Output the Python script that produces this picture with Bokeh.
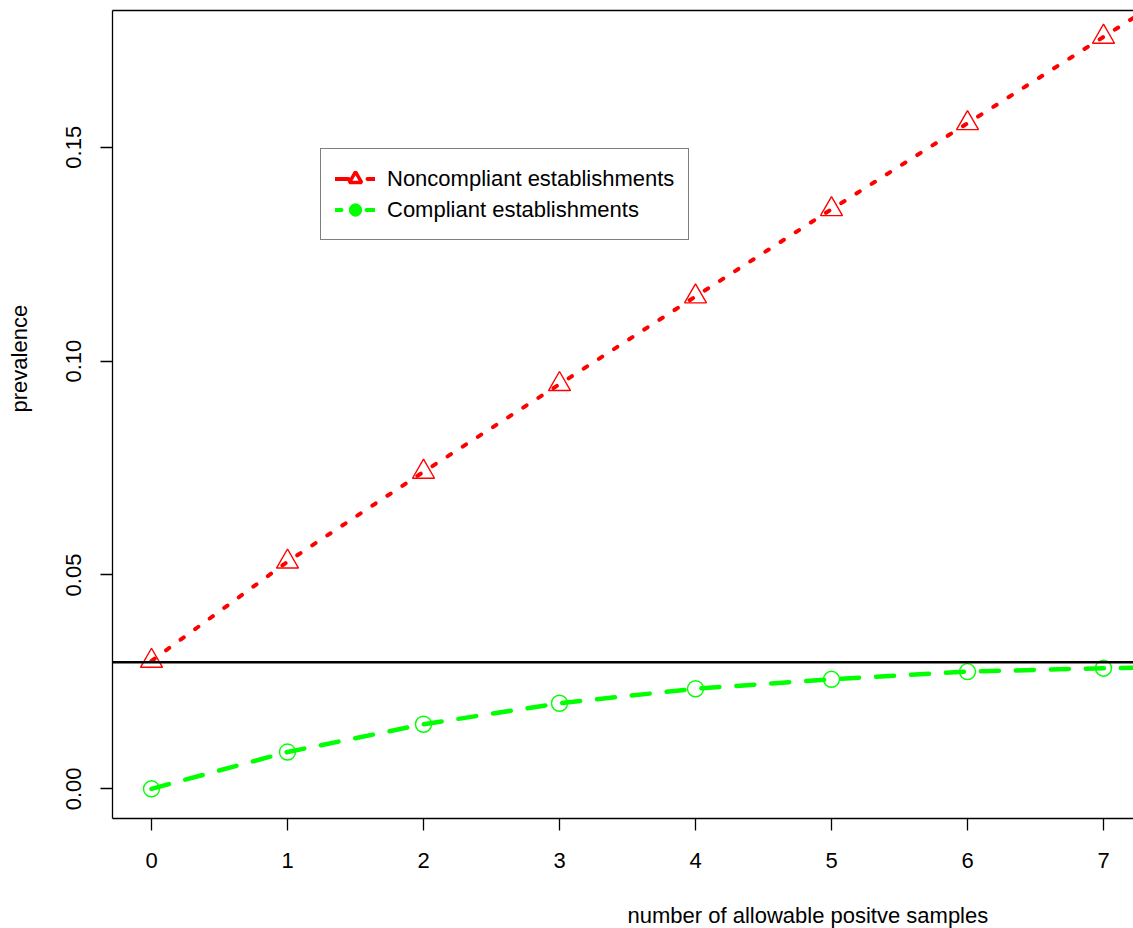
from bokeh.plotting import figure
from bokeh.models import (Range1d, FixedTicker, LinearAxis, Span, Title, Legend,
                          LegendItem, ColumnDataSource)
from bokeh.embed import file_html
from bokeh.resources import INLINE

# ---- data ----
allowable = [0, 1, 2, 3, 4, 5, 6, 7, 8]
noncompliant = [0.0299, 0.0531, 0.0741, 0.0946, 0.1151, 0.1355, 0.1556, 0.1758, 0.1960]
compliant = [0.0000, 0.0086, 0.0151, 0.0200, 0.0234, 0.0256, 0.0274, 0.0282, 0.0287]
reference_level = 0.0296
x_ticks = [0, 1, 2, 3, 4, 5, 6, 7]
y_ticks = [0.00, 0.05, 0.10, 0.15]
y_tick_labels = ["0.00", "0.05", "0.10", "0.15"]

FONT = "Liberation Sans"
RED = "#ff0000"
GREEN = "#00ff00"

W, H = 1133, 928
p = figure(width=W, height=H, output_backend="svg", toolbar_location=None,
           x_range=Range1d(-0.2868, 7.2206), y_range=Range1d(-0.00694, 0.18197),
           x_axis_type=None, y_axis_type=None,
           min_border_left=112, min_border_right=0, min_border_top=10, min_border_bottom=110)
p.outline_line_color = None
p.grid.visible = False
p.background_fill_color = "white"
p.border_fill_color = "white"

def style_axis(ax):
    ax.axis_line_color = "black"
    ax.axis_line_width = 1.3
    ax.major_tick_line_color = "black"
    ax.major_tick_line_width = 1.3
    ax.major_tick_in = 0
    ax.major_tick_out = 12
    ax.minor_tick_line_color = None
    ax.major_label_text_font = FONT
    ax.major_label_text_font_size = "22px"
    ax.major_label_text_color = "black"

def spacer(px):
    # an empty axis whose (blank) label only reserves room between the ticks and the title
    ax = LinearAxis(ticker=FixedTicker(ticks=[]))
    ax.axis_line_color = None
    ax.major_tick_line_color = None
    ax.minor_tick_line_color = None
    ax.major_tick_in = 0
    ax.major_tick_out = 0
    ax.major_label_standoff = 0
    ax.major_label_text_font_size = "0px"
    ax.axis_label = "\u00a0"
    ax.axis_label_text_font_size = "1px"
    ax.axis_label_standoff = px
    return ax

xaxis = LinearAxis(ticker=FixedTicker(ticks=x_ticks))
style_axis(xaxis)
xaxis.major_label_standoff = 22
p.add_layout(xaxis, "below")
p.add_layout(spacer(26), "below")

yaxis = LinearAxis(ticker=FixedTicker(ticks=y_ticks))
yaxis.major_label_overrides = {t: lab for t, lab in zip(y_ticks, y_tick_labels)}
style_axis(yaxis)
yaxis.major_label_orientation = "vertical"
yaxis.major_label_standoff = 19
p.add_layout(yaxis, "left")
p.add_layout(spacer(28), "left")

top = LinearAxis(ticker=FixedTicker(ticks=[]))
top.axis_line_color = "black"
top.axis_line_width = 1.3
top.major_tick_out = 0
top.major_tick_in = 0
top.major_label_text_font_size = "0px"
top.major_label_standoff = 0
top.minor_tick_line_color = None
p.add_layout(top, "above")

# reference level
p.add_layout(Span(location=reference_level, dimension="width", line_color="black", line_width=2.6))

src = ColumnDataSource(dict(x=allowable, non=noncompliant, comp=compliant))

p.line("x", "non", source=src, line_color=RED, line_width=4, line_dash="4 14", line_cap="round")
p.scatter("x", "non", source=src, marker="triangle", size=22, fill_color=None,
          line_color=RED, line_width=1.4)

p.line("x", "comp", source=src, line_color=GREEN, line_width=4.5, line_dash="18 17", line_cap="round")
p.scatter("x", "comp", source=src, marker="circle", size=16, fill_color=None,
          line_color=GREEN, line_width=1.4)

# legend samples (renderers placed outside the visible range, used only for legend glyphs)
off = dict(x=[-50, -49], y=[-50, -49])
lr1 = p.line(off["x"], off["y"], line_color=RED, line_width=4, line_dash="13 19 13", line_cap="round")
lr2 = p.scatter(off["x"], off["y"], marker="triangle", size=15, fill_color="white", line_color=RED, line_width=3.5)
lg1 = p.line(off["x"], off["y"], line_color=GREEN, line_width=4, line_dash="6 25 10", line_cap="round")
lg2 = p.scatter(off["x"], off["y"], marker="circle", size=12, fill_color=GREEN, line_color=GREEN, line_width=1)

legend = Legend(items=[LegendItem(label="Noncompliant establishments", renderers=[lr1, lr2], index=0),
                       LegendItem(label="Compliant establishments", renderers=[lg1, lg2], index=0)],
                location=(208, 578), orientation="vertical")
legend.label_text_font = FONT
legend.label_text_font_size = "22px"
legend.label_text_color = "black"
legend.border_line_color = "black"
legend.border_line_width = 1.3
legend.background_fill_color = "white"
legend.background_fill_alpha = 1
legend.padding = 14
legend.spacing = 0
legend.margin = 0
legend.glyph_width = 40
legend.glyph_height = 31
legend.label_height = 31
legend.label_standoff = 12
p.add_layout(legend, "center")

# axis titles
p.add_layout(Title(text="number of allowable positve samples", align="left", offset=515,
                   text_font=FONT, text_font_size="22px", text_font_style="normal",
                   text_color="black", standoff=0), "below")
p.add_layout(Title(text="prevalence", align="left", offset=406,
                   text_font=FONT, text_font_size="22px", text_font_style="normal",
                   text_color="black", standoff=0), "left")

open("out.html", "w").write(file_html(p, INLINE))
